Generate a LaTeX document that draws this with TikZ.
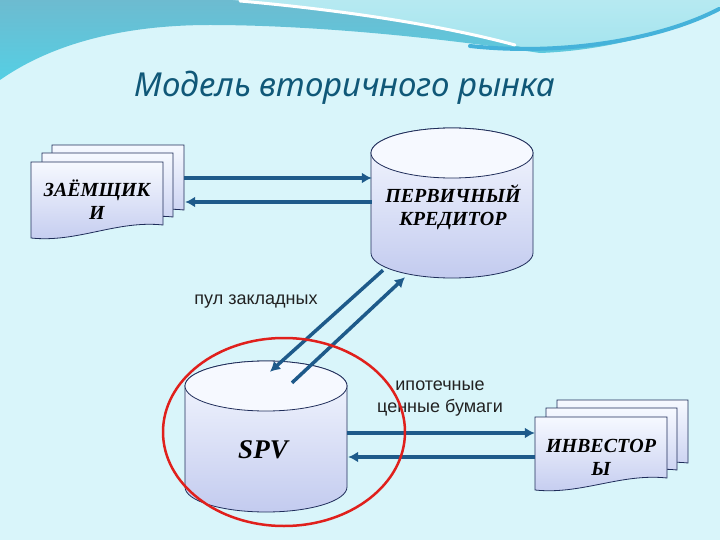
\documentclass[tikz,border=0pt]{standalone}
\usepackage{fontspec}
\setmainfont{Liberation Serif}
\newfontfamily\labelfont{Liberation Sans}
\newfontfamily\titlefont{Noto Sans}
\usetikzlibrary{arrows.meta}
\definecolor{bg}{HTML}{D9F5FA}
\definecolor{bandTop}{HTML}{6DBBD0}
\definecolor{bandBot}{HTML}{55CFE4}
\definecolor{bandLight}{HTML}{A4E4EE}
\definecolor{stripc}{HTML}{45B2DA}
\definecolor{titlec}{HTML}{105878}
\definecolor{docline}{HTML}{1F2D5A}
\definecolor{docTop}{HTML}{F6F9FF}
\definecolor{docBot}{HTML}{C3CBEF}
\definecolor{arrowc}{HTML}{1E5A8A}
\definecolor{ringc}{HTML}{E0201C}
\definecolor{labelc}{HTML}{222222}
\newcommand\mydoc[5]{%
  \path[docshape] (#1,#3) -- (#2,#3) -- (#2,#5)
    .. controls ({#2-0.35*(#2-#1)},{#5-5}) and ({#1+0.35*(#2-#1)},{#4+5}) .. (#1,#4) -- cycle;}
\newcommand\mycyl[4]{% cx, x-radius, top-centre y, bottom-centre y
  \path[cylshape] ({#1-#2},#3) -- ({#1-#2},#4)
    arc[start angle=180,end angle=360,x radius=#2 pt,y radius=25pt]
    -- ({#1+#2},#3)
    arc[start angle=0,end angle=180,x radius=#2 pt,y radius=25pt] -- cycle;
  \path[cyltop] (#1,#3) ellipse[x radius=#2 pt,y radius=25pt];}
\begin{document}
\begin{tikzpicture}[x=1pt,y=-1pt,
  docshape/.style={draw=docline, line width=0.8pt, top color=docTop, bottom color=docBot},
  cylshape/.style={draw=docline, line width=0.8pt, top color=docTop, bottom color=docBot},
  cyltop/.style={draw=docline, line width=0.8pt, fill=docTop},
  anchorbox/.style={draw=none, inner sep=0pt},
  heavy/.style={font=\fontsize{20}{23}\selectfont\bfseries\itshape, align=center, text=black},
  flow/.style={draw=arrowc, line width=3.5pt, -{Latex[length=10pt,width=11pt]}},
  plain/.style={font=\labelfont\fontsize{18}{22}\selectfont, text=labelc, align=center}]
\useasboundingbox (0,0) rectangle (720,540);
\fill[bg] (0,0) rectangle (720,540);
% header band
\path[top color=bandTop, bottom color=bandBot]
  (0,0) -- (0,80) .. controls (50,45) and (120,25) .. (210,25)
  .. controls (300,25) and (420,35) .. (540,53)
  .. controls (620,50) and (690,25) .. (720,7) -- (720,0) -- cycle;
\path[top color=bandLight!80!white, bottom color=bandLight]
  (233,0) .. controls (320,8) and (430,22) .. (525,48)
  .. controls (620,50) and (690,25) .. (720,7) -- (720,0) -- cycle;
\draw[white, line width=3pt, line cap=round] (240,1) .. controls (320,8) and (430,22) .. (515,45);
\draw[stripc, line width=4pt, line cap=round] (470,46) .. controls (560,56) and (660,40) .. (719,9);
\node[font=\titlefont\itshape\fontsize{33}{36}\selectfont, text=titlec, anchor=base] (title) at (345,97) {Модель вторичного рынка};
% borrower documents
\mydoc{52}{184}{145}{222}{210}
\mydoc{42}{173}{153}{230}{217}
\mydoc{31}{163}{162}{238}{225}
\node[anchorbox, minimum width=153pt, minimum height=93pt] (zaem) at (107.5,191.5) {};
\node[heavy] (zaemtext) at (97,200) {ЗАЁМЩИК\\И};
% investor documents
\mydoc{557}{688}{400}{474}{463}
\mydoc{546}{677}{408}{482}{470}
\mydoc{535}{667}{417}{490}{478}
\node[anchorbox, minimum width=153pt, minimum height=90pt] (inv) at (611.5,445) {};
\node[heavy] (invtext) at (601,457) {ИНВЕСТОР\\Ы};
% cylinders
\mycyl{452}{81}{153}{253}
\node[anchorbox, minimum width=162pt, minimum height=150pt] (kred) at (452,203) {};
\node[heavy] (kredtext) at (453,207) {ПЕРВИЧНЫЙ\\КРЕДИТОР};
\mycyl{266}{81}{386}{487}
\node[anchorbox, minimum width=162pt, minimum height=152pt] (spv) at (266,436) {};
\node[font=\fontsize{27}{30}\selectfont\bfseries\itshape, text=black] (spvtext) at (263,450) {SPV};
% connectors
\draw[flow] ([yshift=13.5pt]zaem.east) -- ([xshift=1pt,yshift=25pt]kred.west);
\draw[flow] ([xshift=1pt,yshift=1pt]kred.west) -- ([xshift=1pt,yshift=-10.5pt]zaem.east);
\draw[flow] ([xshift=-69pt,yshift=8pt]kred.south) -- ([xshift=4pt,yshift=-12pt]spv.north);
\draw[flow] ([xshift=26pt,yshift=-23pt]spv.north) -- ([xshift=-47pt,yshift=1pt]kred.south);
\draw[flow] ([yshift=3pt]spv.east) -- ([yshift=12pt]inv.west);
\draw[flow] ([yshift=-12pt]inv.west) -- ([xshift=1pt,yshift=-21pt]spv.east);
% labels
\node[plain] (pool) at (256,302) {пул закладных};
\node[plain] (ipot) at (440,399) {ипотечные\\ценные бумаги};
% red ring
\draw[ringc, line width=2.5pt] (284,432) ellipse[x radius=121pt, y radius=94pt];
\end{tikzpicture}
\end{document}
